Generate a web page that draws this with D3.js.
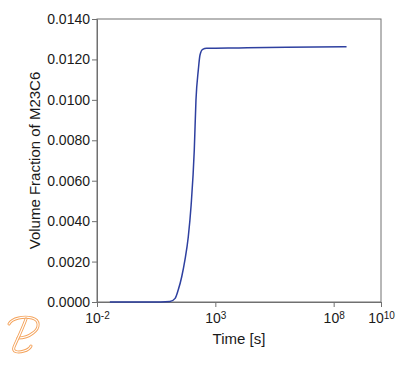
<!DOCTYPE html>
<html>
<head>
<meta charset="utf-8">
<script src="https://cdn.jsdelivr.net/npm/d3@7"></script>
<style>
  body { margin: 0; background: #fff; }
  text { font-family: "Liberation Sans", Arial, sans-serif; fill: #1a1a1a; }
</style>
</head>
<body>
<div id="holder"></div>
<script>
// time [s] and volume fraction
var timeS = [0.035, 1, 5, 12, 20, 27, 38, 52, 72, 95, 129, 152, 191, 225, 292, 431, 1e4, 1e6, 3.5e8];
var volFrac = [0, 0, 0, 0.00002, 0.00018, 0.00059, 0.00125, 0.00208, 0.00323, 0.0048, 0.00752, 0.00999, 0.01148, 0.01222, 0.0125, 0.01255, 0.01257, 0.0126, 0.01263];
var xTicks = [1e-2, 1e3, 1e8, 1e10];
var yTicks = [0, 0.002, 0.004, 0.006, 0.008, 0.010, 0.012, 0.014];

var width = 398, height = 366;
var margin = {top: 19, right: 17, bottom: 64, left: 97};
var axisColor = '#707070';

let svg = d3.select('#holder').append('svg').attr('width', width).attr('height', height);

var x = d3.scaleLog().domain([1e-2, 1e10]).range([margin.left, width - margin.right]);
var y = d3.scaleLinear().domain([0, 0.014]).range([height - margin.bottom, margin.top]);

// frame
svg.append('rect')
  .attr('x', margin.left).attr('y', margin.top)
  .attr('width', width - margin.left - margin.right)
  .attr('height', height - margin.top - margin.bottom)
  .style('fill', 'none').style('stroke', axisColor).style('stroke-width', 1);

var xAxis = svg.append('g')
  .attr('transform', 'translate(0,' + (height - margin.bottom) + ')')
  .call(d3.axisBottom(x).tickValues(xTicks).tickSize(5).tickPadding(3).tickFormat(d => ''));
xAxis.selectAll('.domain, line').style('stroke', axisColor);
xAxis.selectAll('text').each(function(d) {
  var t = d3.select(this).style('font-size', '14px').attr('dy', '0.95em');
  t.append('tspan').text('10');
  t.append('tspan').attr('dy', '-0.45em').style('font-size', '10px').text(Math.round(Math.log10(d)));
});

var yAxis = svg.append('g')
  .attr('transform', 'translate(' + margin.left + ',0)')
  .call(d3.axisLeft(y).tickValues(yTicks).tickSize(5).tickPadding(2).tickFormat(d3.format('.4f')));
yAxis.selectAll('.domain, line').style('stroke', axisColor);
yAxis.selectAll('text').style('font-size', '14px');

// axis titles
svg.append('text')
  .attr('x', (margin.left + width - margin.right) / 2).attr('y', 344)
  .attr('text-anchor', 'middle').style('font-size', '15px')
  .text('Time [s]');
svg.append('text')
  .attr('transform', 'translate(40,' + ((margin.top + height - margin.bottom) / 2) + ') rotate(-90)')
  .attr('text-anchor', 'middle').style('font-size', '15px')
  .text('Volume Fraction of M23C6');

// curve
var line = d3.line()
  .x((d, i) => x(timeS[i]))
  .y((d, i) => y(volFrac[i]))
  .curve(d3.curveMonotoneX);
svg.append('path')
  .datum(volFrac)
  .attr('d', line)
  .style('fill', 'none')
  .style('stroke', '#2e40a0')
  .style('stroke-width', 1.5);

// logo, double outline
var logo = svg.append('g');
var logoPaths = [
  'M9,324 C12,318 24,316 32,318 C40,320 40,328 33,333 C28,337 22,338 18,338',
  'M26,319 C22,330 17,340 14,347 C12,352 18,353 24,351 C28,350 30,348 31,346'
];
logoPaths.forEach(function(p) {
  logo.append('path').attr('d', p).style('fill', 'none').style('stroke', '#f4a25a').style('stroke-width', 3).style('stroke-linecap', 'round');
  logo.append('path').attr('d', p).style('fill', 'none').style('stroke', '#fff').style('stroke-width', 1.2).style('stroke-linecap', 'round');
});
</script>
</body>
</html>
